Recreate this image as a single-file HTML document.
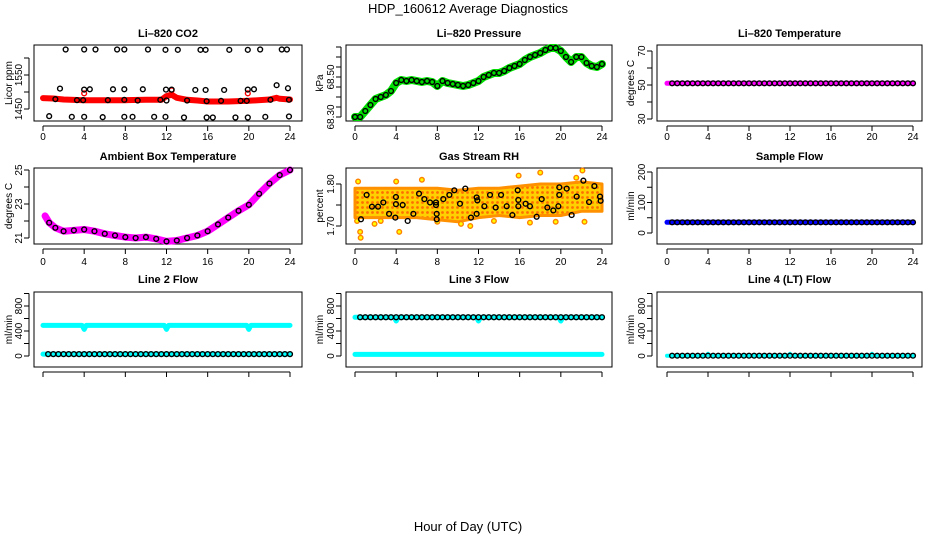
<!DOCTYPE html>
<html><head><meta charset="utf-8"><style>
html,body{margin:0;padding:0;background:#fff;}
svg{display:block;font-family:"Liberation Sans",sans-serif;}
</style></head><body>
<svg id="chart" width="936" height="540" viewBox="0 0 936 540">
<text x="468" y="13" text-anchor="middle" font-size="13">HDP_160612  Average Diagnostics</text>
<text x="468" y="531" text-anchor="middle" font-size="13">Hour of Day (UTC)</text>
</svg>
<script>
// ---- shared data ----
const halfHours=[0,0.5,1,1.5,2,2.5,3,3.5,4,4.5,5,5.5,6,6.5,7,7.5,8,8.5,9,9.5,10,10.5,11,11.5,12,12.5,13,13.5,14,14.5,15,15.5,16,16.5,17,17.5,18,18.5,19,19.5,20,20.5,21,21.5,22,22.5,23,23.5,24];
const xTicks=[0,4,8,12,16,20,24];
// CO2
const co2TopHours=[2.2,4.0,5.1,7.2,7.9,10.2,11.9,13.1,15.3,15.8,18.1,19.9,21.1,23.2,23.7];
const co2TopVals=[1625,1625,1625,1625,1625,1625,1624,1624,1624,1624,1624,1624,1625,1625,1625];
const co2MidHours=[1.65,4.0,4.55,6.8,7.9,9.7,11.95,12.5,14.8,15.8,17.6,19.9,20.5,22.7,23.8];
const co2MidVals=[1510,1507,1508,1508,1508,1508,1507,1507,1506,1506,1506,1507,1508,1520,1511];
const co2LowHours=[1.2,3.3,3.9,6.3,7.9,9.2,11.4,12.0,14.0,15.9,17.3,19.2,19.8,22.1,23.9];
const co2LowVals=[1479,1476,1476,1476,1477,1475,1477,1475,1475,1473,1474,1474,1474,1477,1477];
const co2BotHours=[0.6,2.8,4.0,5.8,7.9,8.7,10.8,11.9,13.7,15.9,16.5,18.7,19.9,21.6,23.9];
const co2BotVals=[1429,1427,1427,1426,1427,1427,1427,1427,1425,1425,1425,1425,1425,1427,1428];
const co2BandHours=[0,1,2,4,6,8,10,11.5,12,12.5,13,14,15,16,18,20,22,22.7,23,24];
const co2BandVals=[1482,1481,1478,1476,1476,1476,1477,1477,1488,1492,1483,1477,1475,1472,1472,1474,1478,1483,1480,1478];
const co2RedHours=[4.0,12.5,19.9];
const co2RedVals=[1496,1505,1496];
// Pressure
const presVals=[68.30,68.30,68.33,68.36,68.39,68.40,68.41,68.43,68.47,68.485,68.48,68.485,68.48,68.475,68.48,68.475,68.455,68.48,68.47,68.465,68.46,68.455,68.46,68.47,68.48,68.50,68.51,68.52,68.52,68.53,68.545,68.555,68.565,68.585,68.60,68.61,68.62,68.635,68.645,68.645,68.63,68.60,68.575,68.60,68.60,68.57,68.555,68.55,68.565];
// Li-820 temperature
const tempVals=[51,51,51,51,51,51,51,51,51,51,51,51,51,51,51,51,51,51,51,51,51,51,51,51,51,51,51,51,51,51,51,51,51,51,51,51,51,51,51,51,51,51,51,51,51,51,51,51,51];
// Ambient
const ambHours=[0.2,0.6,1.2,2,3,4,5,6,7,8,9,10,11,12,13,14,15,16,17,18,19,20,21,22,23,24];
const ambVals=[22.3,21.9,21.6,21.4,21.45,21.5,21.4,21.25,21.15,21.05,21.0,21.05,20.95,20.8,20.85,21.0,21.15,21.4,21.8,22.2,22.6,22.95,23.6,24.2,24.7,25.0];
// RH
const rhEnvHours=[0,2,4,6,8,10,12,14,16,18,20,22,24];
const rhEnvHi=[1.79,1.79,1.79,1.79,1.79,1.785,1.79,1.79,1.795,1.80,1.80,1.805,1.80];
const rhEnvLo=[1.72,1.72,1.72,1.72,1.715,1.71,1.72,1.725,1.72,1.725,1.725,1.735,1.735];
const rhOutHours=[0.3,0.5,0.55,4.0,4.3,6.5,15.9,18.0,22.1,22.3,1.9,10.3,11.2,0.2,2.5,8.0,13.5,17.0,19.5,21.5];
const rhOutVals=[1.806,1.686,1.672,1.806,1.686,1.81,1.82,1.827,1.832,1.71,1.705,1.705,1.70,1.712,1.712,1.71,1.712,1.708,1.71,1.815];
const rhBlkHours=[0.58,1.13,1.65,2.24,2.75,3.31,3.92,3.98,3.98,4.63,5.12,5.67,6.22,6.74,7.29,7.87,7.87,7.94,7.94,8.58,9.17,9.65,10.2,10.72,11.27,11.82,11.82,11.89,12.57,13.12,13.67,14.19,14.74,15.29,15.81,15.87,15.87,16.58,17.0,17.65,18.14,18.69,19.27,19.76,19.85,19.85,20.57,21.05,21.54,22.19,22.74,23.26,23.81,23.87];
const rhBlkVals=[1.716,1.774,1.746,1.746,1.756,1.729,1.720,1.769,1.752,1.750,1.712,1.729,1.777,1.764,1.756,1.756,1.750,1.729,1.716,1.764,1.774,1.785,1.753,1.789,1.720,1.729,1.768,1.761,1.747,1.774,1.744,1.774,1.747,1.726,1.785,1.762,1.747,1.753,1.747,1.722,1.764,1.744,1.737,1.747,1.774,1.792,1.789,1.726,1.770,1.808,1.757,1.795,1.770,1.760];
// Sample flow
const sampVals=[35,35,35,35,35,35,35,35,35,35,35,35,35,35,35,35,35,35,35,35,35,35,35,35,35,35,35,35,35,35,35,35,35,35,35,35,35,35,35,35,35,35,35,35,35,35,35,35,35];
// Line flows
const flowHours=[0,3.8,4.0,4.2,11.8,12.0,12.2,19.8,20.0,20.2,24];
const line2HiVals=[490,490,425,490,490,425,490,490,425,490,490];
const line2LoVals=[30,30,30,30,30,30,30,30,30,30,30];
const line3HiVals=[620,620,560,620,620,560,620,620,560,620,620];
const line3LoVals=[25,25,25,25,25,25,25,25,25,25,25];
const line4Vals=[5,5,35,5,5,35,5,5,35,5,5];

const NS='http://www.w3.org/2000/svg';
const svg=document.getElementById('chart');
function mk(tag,attrs,parent){const e=document.createElementNS(NS,tag);for(const k in attrs)e.setAttribute(k,attrs[k]);(parent||svg).appendChild(e);return e;}

const cols=[{bx:[34,302],xa:[43,290],lab:18,yl:8},{bx:[346,612],xa:[355,602],lab:330,yl:319},{bx:[657,922],xa:[667,913],lab:641,yl:630}];
const rows=[{by:[45,121],tt:37,xl:140},{by:[168,244],tt:160,xl:265},{by:[292,367],tt:283,xl:null}];

function panel(name,title,ci,ri,yA,yTicks,yLabels,ylab){
  const c=cols[ci],r=rows[ri];
  const g=mk('g',{});
  
  
  const X=h=>c.xa[0]+(h-0)*(c.xa[1]-c.xa[0])/24;
  const Y=v=>yA[1]+(v-yA[0])*(yA[3]-yA[1])/(yA[2]-yA[0]);
  const t=mk('text',{x:(c.bx[0]+c.bx[1])/2,y:r.tt,'text-anchor':'middle','font-size':11,'font-weight':'bold'},g);
  t.textContent=title;
  
  
  const box=mk('rect',{x:c.bx[0],y:r.by[0],width:c.bx[1]-c.bx[0],height:r.by[1]-r.by[0],fill:'none',stroke:'#000','stroke-width':1},g);
  
  
  const xa=mk('g',{},g);
  
  
  mk('line',{x1:X(0),x2:X(24),y1:r.by[1]+5,y2:r.by[1]+5,stroke:'#000'},xa);
  xTicks.forEach(h=>{mk('line',{x1:X(h),x2:X(h),y1:r.by[1]+5,y2:r.by[1]+10,stroke:'#000'},xa);
    if(r.xl){const l=mk('text',{x:X(h),y:r.xl,'text-anchor':'middle','font-size':10},xa);l.textContent=h;}});
  const ya=mk('g',{},g);
  
  
  mk('line',{x1:c.bx[0]-5,x2:c.bx[0]-5,y1:Y(yTicks[0]),y2:Y(yTicks[yTicks.length-1]),stroke:'#000'},ya);
  yTicks.forEach(v=>mk('line',{x1:c.bx[0]-10,x2:c.bx[0]-5,y1:Y(v),y2:Y(v),stroke:'#000'},ya));
  yLabels.forEach(v=>{const l=mk('text',{x:0,y:0,'text-anchor':'middle','font-size':10,transform:`translate(${c.lab+4},${Y(v)}) rotate(-90)`},ya);l.textContent=v;});
  const yt=mk('text',{'text-anchor':'middle','font-size':10,transform:`translate(${c.yl+4},${(r.by[0]+r.by[1])/2}) rotate(-90)`},g);
  yt.textContent=ylab;
  
  
  return {g,X,Y};
}
function band(p,hs,vs,color,w,name){
  const d=hs.map((h,i)=>(i?'L':'M')+p.X(h).toFixed(1)+' '+p.Y(vs[i]).toFixed(1)).join('');
  const e=mk('path',{d,fill:'none',stroke:color,'stroke-width':w,'stroke-linejoin':'round','stroke-linecap':'round'},p.g);
  
  
}
function pts(p,hs,vs,color,name,r,fill){
  const gg=mk('g',{},p.g);
  
  
  hs.forEach((h,i)=>mk('circle',{cx:p.X(h),cy:p.Y(vs[i]),r:r||2.4,fill:fill||'none',stroke:color,'stroke-width':1.4},gg));
}

// CO2
let p=panel('co2-panel','Li\u2013820 CO2',0,0,[1450,109,1550,75],[1450,1500,1550,1600],[1450,1550],'Licor ppm');
band(p,co2BandHours,co2BandVals,'#f00',6,'co2-red-band');
pts(p,co2RedHours,co2RedVals,'#f00','co2-red-points');
pts(p,co2TopHours,co2TopVals,'#000','co2-points-top');
pts(p,co2MidHours,co2MidVals,'#000','co2-points-mid');
pts(p,co2LowHours,co2LowVals,'#000','co2-points-low');
pts(p,co2BotHours,co2BotVals,'#000','co2-points-bottom');
// Pressure
p=panel('pressure-panel','Li\u2013820 Pressure',1,0,[68.30,117,68.50,77],[68.30,68.35,68.40,68.45,68.50,68.55,68.60,68.65],['68.30','68.50'],'kPa');
band(p,halfHours,presVals,'#00e000',8,'pressure-green-band');
pts(p,halfHours,presVals,'#000','pressure-points');
// Temp
p=panel('li820-temperature-panel','Li\u2013820 Temperature',2,0,[30,119,70,51],[30,40,50,60,70],[30,50,70],'degrees C');
band(p,halfHours,tempVals,'#ff00ff',5,'temperature-magenta-band');
pts(p,halfHours.slice(1),tempVals.slice(1),'#000','temperature-points');
// Ambient
p=panel('ambient-temperature-panel','Ambient Box Temperature',0,1,[21,238,25,170],[21,22,23,24,25],[21,23,25],'degrees C');
band(p,ambHours,ambVals,'#ff00ff',7,'ambient-magenta-band');
pts(p,ambHours.slice(1),ambVals.slice(1),'#000','ambient-points');
// RH
p=panel('rh-panel','Gas Stream RH',1,1,[1.70,226,1.80,184],[1.70,1.75,1.80],['1.70','1.80'],'percent');
{
  const defs=mk('defs',{});
  const pat=mk('pattern',{id:'dots',width:5,height:5,patternUnits:'userSpaceOnUse'},defs);
  mk('rect',{width:5,height:5,fill:'#ffd000'},pat);
  mk('circle',{cx:2.5,cy:2.5,r:1.4,fill:'#ff7000'},pat);
  const d=rhEnvHours.map((h,i)=>(i?'L':'M')+p.X(h)+' '+p.Y(rhEnvHi[i])).join('')+
    rhEnvHours.slice().reverse().map((h,i)=>'L'+p.X(h)+' '+p.Y(rhEnvLo[rhEnvHours.length-1-i])).join('')+'Z';
  const a=mk('path',{d,fill:'url(#dots)',stroke:'#ff9000','stroke-width':3,'stroke-linejoin':'round'},p.g);
  
  
}
pts(p,rhOutHours,rhOutVals,'#ff8000','rh-outlier-points',2.3,'#ffff00');
pts(p,rhBlkHours,rhBlkVals,'#000','rh-points');
// Sample flow
p=panel('sample-flow-panel','Sample Flow',2,1,[0,233,200,172],[0,50,100,150,200],[0,100,200],'ml/min');
band(p,halfHours,sampVals,'#0000ff',5,'sample-flow-blue-band');
pts(p,halfHours.slice(1),sampVals.slice(1),'#000','sample-flow-points');
// Line 2
const fy=[0,356,800,306],ft=[0,200,400,600,800,1000],fl=[0,400,800];
p=panel('line2-flow-panel','Line 2 Flow',0,2,fy,ft,fl,'ml/min');
band(p,flowHours,line2HiVals,'#00ffff',5,'line2-cyan-high-band');
band(p,flowHours,line2LoVals,'#00ffff',5,'line2-cyan-low-band');
pts(p,halfHours.slice(1),halfHours.slice(1).map(()=>line2LoVals[0]),'#000','line2-points');
// Line 3
p=panel('line3-flow-panel','Line 3 Flow',1,2,fy,ft,fl,'ml/min');
band(p,flowHours,line3HiVals,'#00ffff',5,'line3-cyan-high-band');
band(p,flowHours,line3LoVals,'#00ffff',5,'line3-cyan-low-band');
pts(p,halfHours.slice(1),halfHours.slice(1).map(()=>line3HiVals[0]),'#000','line3-points');
// Line 4
p=panel('line4-flow-panel','Line 4 (LT) Flow',2,2,fy,ft,fl,'ml/min');
band(p,flowHours,line4Vals,'#00ffff',4,'line4-cyan-band');
pts(p,halfHours.slice(1),halfHours.slice(1).map(()=>line4Vals[0]),'#000','line4-points');
</script>
</body></html>
